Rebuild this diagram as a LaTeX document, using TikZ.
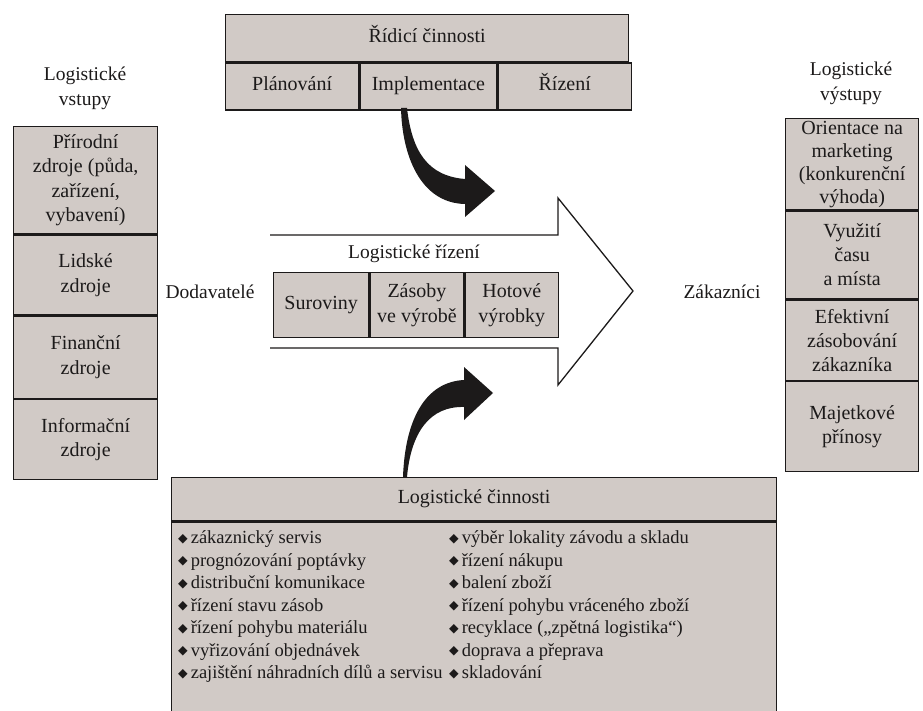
\documentclass[tikz,border=0pt]{standalone}
\usepackage{fontspec}
\setmainfont{Liberation Serif}
\newfontfamily\symfont{DejaVu Sans}
\usetikzlibrary{positioning}

\definecolor{paper}{RGB}{209,202,198}
\definecolor{ink}{RGB}{28,26,26}

\tikzset{
  cell/.style={draw=ink, fill=paper, line width=1.3pt, align=center, inner sep=0pt,
    text=ink, font=\fontsize{20}{24.5}\selectfont},
  row/.style={text height=14pt, text depth=5pt},
  plain/.style={align=center, inner sep=0pt, text=ink, font=\fontsize{19.5}{25}\selectfont},
  item/.style={anchor=base west, inner sep=0pt, text=ink, font=\fontsize{18.5}{20}\selectfont},
  bendarrow/.style={fill=ink, draw=none},
}
\newcommand{\bul}{\raisebox{1.5pt}{\symfont\fontsize{12.5}{12.5}\selectfont ◆}\hspace{3pt}}

\begin{document}
\begin{tikzpicture}[x=1pt, y=-1pt]

    \fill[white] (0,0) rectangle (923,711);
    \useasboundingbox (0,0) rectangle (923,711);

    % Define nodes
    % top: control activities
    \node[cell, row, anchor=north west, minimum width=403pt, minimum height=47pt] (ridici) at (225,14) {Řídicí činnosti};
    \node[cell, row, anchor=north west, minimum width=133pt, minimum height=47pt] (planovani) at (ridici.south west) {Plánování};
    \node[cell, row, right=0pt of planovani, minimum width=137pt, minimum height=47pt] (implementace) {Implementace};
    \node[cell, row, right=0pt of implementace, minimum width=133pt, minimum height=47pt] (rizeni) {Řízení};

    % left column: inputs
    \node[plain]                                  (vstupy) at (85,88) {Logistické\\vstupy};
    \node[cell, anchor=north west, minimum width=144pt, minimum height=107pt] (prirodni) at (13,126) {Přírodní\\zdroje (půda,\\zařízení,\\vybavení)};
    \node[cell, below=0pt of prirodni, minimum width=144pt, minimum height=80pt]  (lidske) {Lidské\\zdroje};
    \node[cell, below=0pt of lidske, minimum width=144pt, minimum height=82pt]    (financni) {Finanční\\zdroje};
    \node[cell, below=0pt of financni, minimum width=144pt, minimum height=80pt]  (informacni) {Informační\\zdroje};

    % right column: outputs
    \node[plain]                                  (vystupy) at (851,83) {Logistické\\výstupy};
    \node[cell, anchor=north west, minimum width=133pt, minimum height=91pt,
      font=\fontsize{20}{23}\selectfont] (orientace) at (785,118) {Orientace na\\marketing\\(konkurenční\\výhoda)};
    \node[cell, below=0pt of orientace, minimum width=133pt, minimum height=88pt,
      font=\fontsize{20}{24}\selectfont] (vyuziti) {Využití\\času\\a místa};
    \node[cell, below=0pt of vyuziti, minimum width=133pt, minimum height=80pt,
      font=\fontsize{20}{24}\selectfont] (efektivni) {Efektivní\\zásobování\\zákazníka};
    \node[cell, below=0pt of efektivni, minimum width=133pt, minimum height=90pt] (majetkove) {Majetkové\\přínosy};

    % middle: logistics management
    \node[plain] (dodavatele) at (210,292) {Dodavatelé};
    \node[plain] (zakaznici)  at (722,292) {Zákazníci};
    \node[plain] (log-rizeni) at (414,254) {Logistické řízení};
    \node[cell, row, anchor=north west, minimum width=95pt, minimum height=65pt] (suroviny) at (273,272) {Suroviny};
    \node[cell, right=0pt of suroviny, minimum width=94pt, minimum height=65pt] (zasoby) {Zásoby\\ve výrobě};
    \node[cell, right=0pt of zasoby, minimum width=93pt, minimum height=65pt]   (hotove) {Hotové\\výrobky};

    % bottom: logistics activities
    \node[cell, row, anchor=north west, minimum width=605pt, minimum height=43pt] (cinnosti) at (171,477) {Logistické činnosti};
    \node[cell, below=0pt of cinnosti, minimum width=605pt, minimum height=200pt] (seznam) {};
    \foreach \t [count=\i] in {zákaznický servis, prognózování poptávky, distribuční komunikace,
        řízení stavu zásob, řízení pohybu materiálu, vyřizování objednávek,
        zajištění náhradních dílů a servisu}
      \node[item] (lev-\i) at (178,521+22.5*\i) {\bul\t};
    \foreach \t [count=\i] in {výběr lokality závodu a skladu, řízení nákupu, balení zboží,
        řízení pohybu vráceného zboží, recyklace („zpětná logistika“), doprava a přeprava,
        skladování}
      \node[item] (prav-\i) at (449,521+22.5*\i) {\bul\t};

    % Big arrow
    \draw[ink, line width=1.3pt] (270,235) -- (558,235) -- (558,198) -- (633,291)
      -- (558,385) -- (558,348) -- (270,348);

    % Bent arrows
    \fill[bendarrow] (407,108) .. controls (412,152) and (428,176) .. (465,179)
      -- (465,165) -- (495,191) -- (465,217) -- (465,204)
      .. controls (420,203) and (402,155) .. (401,108) -- cycle;
    \fill[bendarrow] (403,477) .. controls (405,420) and (425,382) .. (464,380)
      -- (464,367) -- (493,393) -- (464,420) -- (464,407)
      .. controls (430,406) and (411,432) .. (407,477) -- cycle;

\end{tikzpicture}
\end{document}
